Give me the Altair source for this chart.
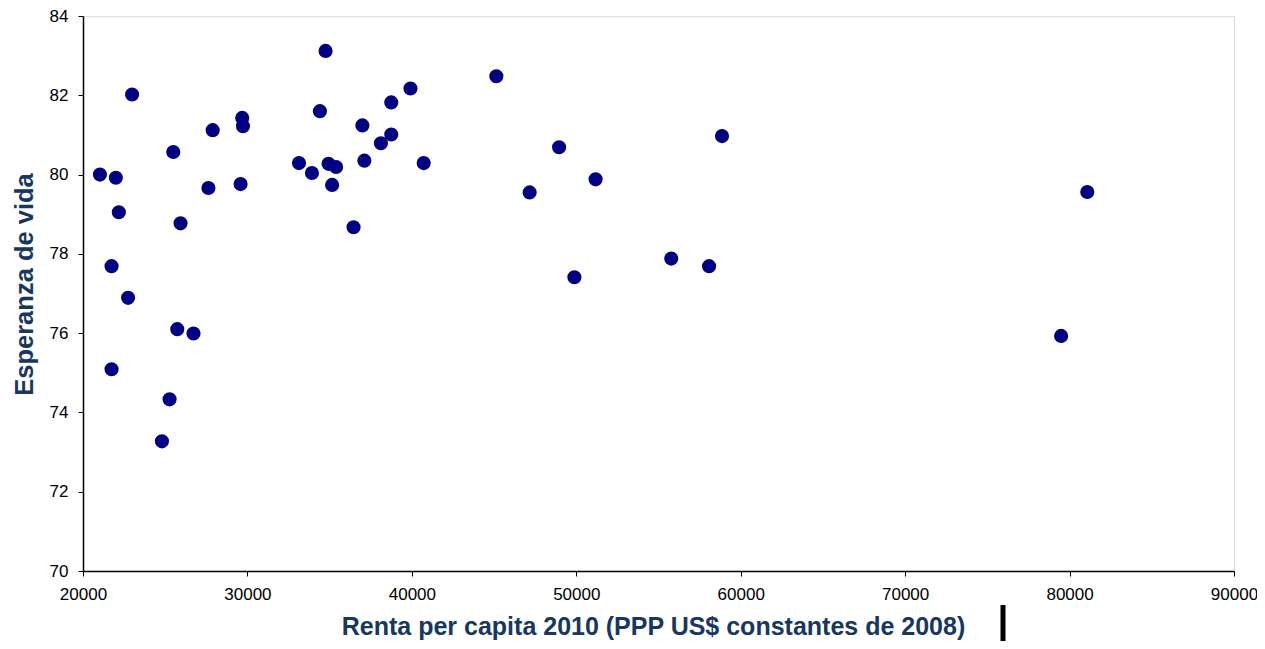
import altair as alt
import pandas as pd

renta = [21029, 21998, 22985, 25490, 27887, 29685, 29727, 27627, 29583, 22179,
         25932, 21737, 22742, 25733, 26719, 21737, 25266, 24800, 34407, 36991,
         33136, 33923, 34933, 35393, 37112, 35150, 36453, 34752, 45139, 39915,
         38747, 38747, 38118, 40720, 48954, 47163, 49885, 58862, 51174, 55775,
         58075, 81077, 79486]
esperanza = [80.00, 79.92, 82.02, 80.57, 81.12, 81.43, 81.22, 79.66, 79.76, 79.05,
             78.77, 77.69, 76.89, 76.10, 75.99, 75.09, 74.33, 73.27, 81.60, 81.24,
             80.29, 80.04, 80.27, 80.19, 80.35, 79.74, 78.67, 83.12, 82.48, 82.17,
             81.82, 81.01, 80.79, 80.29, 80.69, 79.55, 77.41, 80.97, 79.88, 77.88,
             77.69, 79.56, 75.93]

x_ticks = [20000, 30000, 40000, 50000, 60000, 70000, 80000, 90000]
y_ticks = [70, 72, 74, 76, 78, 80, 82, 84]

df = pd.DataFrame({"renta": renta, "esperanza": esperanza})

title_color = "#17375E"
font = "Liberation Sans"

points = alt.Chart(df).mark_circle(size=200, color="#000080", opacity=1).encode(
    x=alt.X("renta:Q",
            scale=alt.Scale(domain=[20000, 90000], nice=False, zero=False),
            axis=alt.Axis(values=x_ticks, format="d", grid=False, labelFlush=False,
                          title="Renta per capita 2010 (PPP US$ constantes de 2008)",
                          titleFont=font, titleFontSize=25, titleFontWeight="bold",
                          titleColor=title_color, titleX=570, titleY=55,
                          titleBaseline="middle", titleAlign="center",
                          labelFont=font, labelFontSize=17, labelColor="#000000",
                          labelPadding=10, tickSize=5, tickColor="#000000",
                          domainColor="#000000", domainWidth=1.5)),
    y=alt.Y("esperanza:Q",
            scale=alt.Scale(domain=[70, 84], nice=False, zero=False),
            axis=alt.Axis(values=y_ticks, format="d", grid=False,
                          title="Esperanza de vida",
                          titleFont=font, titleFontSize=25.5, titleFontWeight="bold",
                          titleColor=title_color, titleX=-59, titleY=268,
                          titleBaseline="middle", titleAlign="center", titleAngle=-90,
                          labelFont=font, labelFontSize=17, labelColor="#000000",
                          labelPadding=10, tickSize=5, tickColor="#000000",
                          domainColor="#000000", domainWidth=1.5)),
)

bar = alt.Chart(pd.DataFrame({"k": [0]})).mark_rule(color="#000000", strokeWidth=5).encode(
    x=alt.value(920), y=alt.value(589), y2=alt.value(640)
)

chart = (points + bar).properties(
    width=1151, height=555,
    padding={"left": 75, "top": 8, "right": 23, "bottom": 70},
    autosize=alt.AutoSizeParams(type="none"),
).configure_view(stroke="#8c8c8c", strokeWidth=1.2).configure(background="#ffffff")

chart.save("out.html", embed_options={"renderer": "svg", "actions": False})
